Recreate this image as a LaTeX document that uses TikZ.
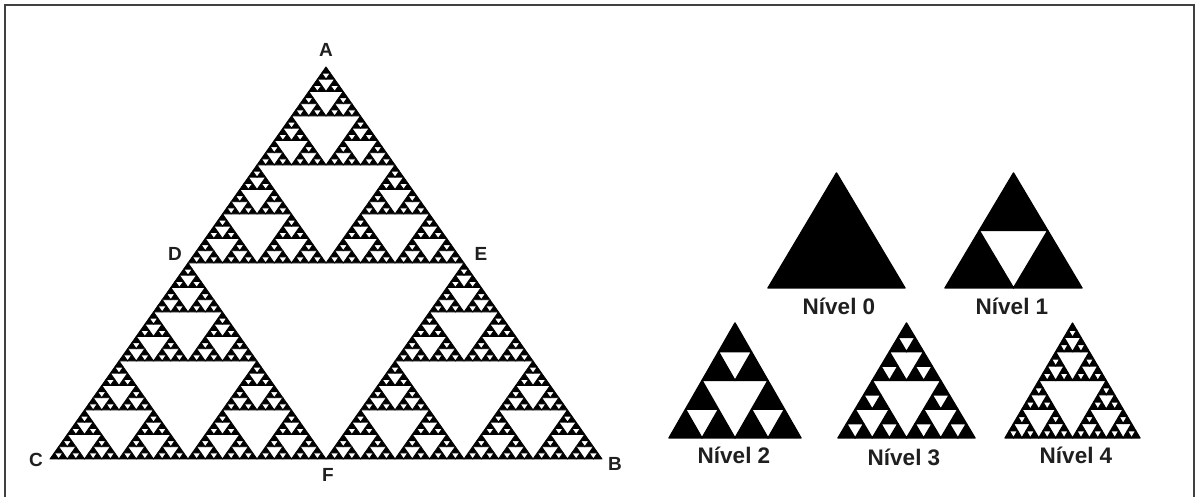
\documentclass[tikz,border=0pt]{standalone}
\usepackage{fontspec}
\setmainfont{Liberation Sans}
\def\sierplw{1pt}
\def\sierp#1#2#3#4#5{\edef\sierpargs{{#1}{#2}{#3}{#4}{#5}}\expandafter\sierpdo\sierpargs}
\def\sierpdo#1#2#3#4#5{%
 \ifnum#1>0
  \filldraw[fill=white, draw=black, line width=\sierplw, line join=round] ({#2+#4/4},{#3+#5/2}) -- ({#2+3*#4/4},{#3+#5/2}) -- ({#2+#4/2},#3) -- cycle;
  \begingroup
   \pgfmathsetmacro\sw{#4/2}%
   \pgfmathsetmacro\sh{#5/2}%
   \pgfmathsetmacro\sxb{#2+#4/2}%
   \pgfmathsetmacro\sxc{#2+#4/4}%
   \pgfmathsetmacro\syc{#3+#5/2}%
   \pgfmathtruncatemacro\sd{#1-1}%
   \sierp{\sd}{#2}{#3}{\sw}{\sh}%
   \sierp{\sd}{\sxb}{#3}{\sw}{\sh}%
   \sierp{\sd}{\sxc}{\syc}{\sw}{\sh}%
  \endgroup
 \fi}
% full triangle: depth, left x, base y, width, height
\def\sierptri#1#2#3#4#5{%
  \filldraw[fill=black, draw=black, line width=\sierplw, line join=round] (#2,#3) -- ({#2+#4},#3) -- ({#2+#4/2},{#3+#5}) -- cycle;
  \sierp{#1}{#2}{#3}{#4}{#5}}
\begin{document}
\begin{tikzpicture}[x=1pt,y=1pt,
  vlabel/.style={font=\bfseries\fontsize{19}{19}\selectfont, text=black!88, inner sep=0pt},
  nlabel/.style={font=\bfseries\fontsize{22.5}{22.5}\selectfont, text=black!88, inner sep=0pt}]
\useasboundingbox (0,0) rectangle (1197,497);
\fill[white] (0,0) rectangle (1197,497);
\draw[line width=1.6pt, black!75] (5,-3) -- (5,492) -- (1194,492) -- (1194,-3);
% big triangle
\def\sierplw{0.9pt}
\sierptri{6}{50}{38}{552}{392}
% levels
\def\sierplw{1.4pt}
\sierptri{0}{768}{209}{137}{115}
\sierptri{1}{945}{209}{137}{115}
\sierptri{2}{669}{59}{132}{115}
\sierptri{3}{838}{59}{137}{115}
\def\sierplw{1.2pt}
\sierptri{4}{1005}{59}{135}{115}
% vertex labels
\node[vlabel] (A) at (326,447) {A};
\node[vlabel] (C) at (36,37) {C};
\node[vlabel] (F) at (328,22) {F};
\node[vlabel] (B) at (615,33) {B};
\node[vlabel] (D) at (175,243) {D};
\node[vlabel] (E) at (481,243) {E};
% level labels
\node[nlabel] (n0) at (839,191) {Nível 0};
\node[nlabel] (n1) at (1012,191) {Nível 1};
\node[nlabel] (n2) at (734,42) {Nível 2};
\node[nlabel] (n3) at (904,40) {Nível 3};
\node[nlabel] (n4) at (1076,42) {Nível 4};
\end{tikzpicture}
\end{document}
